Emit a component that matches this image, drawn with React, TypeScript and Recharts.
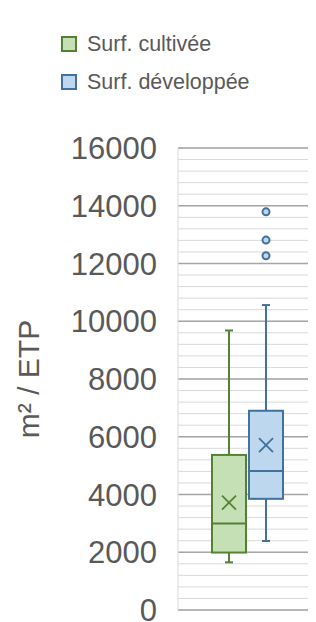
import React from 'react'
import { ComposedChart, Bar, XAxis, YAxis, CartesianGrid, Legend } from 'recharts'

const categories = ['Surf. cultivée', 'Surf. développée']
const mins = [1650, 2390]
const q1s = [1990, 3850]
const medians = [3000, 4810]
const q3s = [5370, 6900]
const maxs = [9680, 10560]
const means = [3720, 5710]
const outliers = [[], [12270, 12810, 13790]]
const yTicks = [0, 2000, 4000, 6000, 8000, 10000, 12000, 14000, 16000]
const Y_DOMAIN = [0, 16000]

const FILLS = ['#C5E0B4', '#BDD7EE']
const STROKES = ['#548235', '#41719C']
const FONT = '"Liberation Sans", Arial, sans-serif'

// light grid every 400
const minorTicks = Array.from({ length: 41 }, (_, i) => i * 400)

const data = [
  {
    group: '',
    s0: [q1s[0], q3s[0]],
    s1: [q1s[1], q3s[1]],
  },
]

const minorGrid = ({ yAxis, offset }: any) => {
  if (yAxis && typeof yAxis.scale === 'function') return minorTicks.map((v) => yAxis.scale(v))
  const [lo, hi] = Y_DOMAIN
  return minorTicks.map((v) => offset.top + offset.height * (1 - (v - lo) / (hi - lo)))
}

const BoxShape = (props: any) => {
  const { x, y, width, height, si } = props
  const top = Math.min(y, y + height)
  const bottom = Math.max(y, y + height)
  const k = (bottom - top) / (q3s[si] - q1s[si])
  const py = (v: number) => bottom - (v - q1s[si]) * k
  const cx = x + width / 2
  const stroke = STROKES[si]
  const cap = 4
  const m = 7
  const my = py(means[si])
  return (
    <g>
      <line x1={cx} x2={cx} y1={top} y2={py(maxs[si])} stroke={stroke} strokeWidth={2} />
      <line x1={cx - cap} x2={cx + cap} y1={py(maxs[si])} y2={py(maxs[si])} stroke={stroke} strokeWidth={2} />
      <line x1={cx} x2={cx} y1={bottom} y2={py(mins[si])} stroke={stroke} strokeWidth={2} />
      <line x1={cx - cap} x2={cx + cap} y1={py(mins[si])} y2={py(mins[si])} stroke={stroke} strokeWidth={2} />
      <rect x={x} y={top} width={width} height={bottom - top} fill={FILLS[si]} stroke={stroke} strokeWidth={2} />
      <line x1={x} x2={x + width} y1={py(medians[si])} y2={py(medians[si])} stroke={stroke} strokeWidth={2} />
      <line x1={cx - m} x2={cx + m} y1={my - m} y2={my + m} stroke={stroke} strokeWidth={1.8} />
      <line x1={cx - m} x2={cx + m} y1={my + m} y2={my - m} stroke={stroke} strokeWidth={1.8} />
      {outliers[si].map((v, i) => (
        <circle key={i} cx={cx} cy={py(v)} r={3.5} fill={FILLS[si]} stroke={stroke} strokeWidth={2} />
      ))}
    </g>
  )
}

const LegendContent = () => (
  <div style={{ fontFamily: FONT, fontSize: 21.5, color: '#595959' }}>
    {categories.map((c, i) => (
      <div key={c} style={{ display: 'flex', alignItems: 'center', height: 24, marginBottom: 14, whiteSpace: 'nowrap' }}>
        <span
          style={{
            display: 'inline-block',
            width: 12,
            height: 12,
            background: FILLS[i],
            border: `2px solid ${STROKES[i]}`,
            marginRight: 10,
          }}
        />
        <span>{c}</span>
      </div>
    ))}
  </div>
)

export default function App() {
  return (
    <>
      <style>{'html,body{overflow:hidden}'}</style>
      <ComposedChart
        width={308}
        height={614}
        data={data}
        margin={{ top: 64, right: 0, bottom: 12, left: 0 }}
        barGap={3}
      >
        <CartesianGrid
          vertical={false}
          stroke="#D9D9D9"
          strokeWidth={1}
          horizontalCoordinatesGenerator={minorGrid}
        />
        <CartesianGrid vertical={false} stroke="#A6A6A6" strokeWidth={1.5} />
        <XAxis dataKey="group" hide />
        <YAxis
          width={170}
          domain={Y_DOMAIN}
          ticks={yTicks}
          interval={0}
          tickLine={false}
          tickSize={6}
          tickMargin={15}
          axisLine={{ stroke: '#D9D9D9', strokeWidth: 1 }}
          tick={{ fill: '#595959', fontSize: 31, fontFamily: FONT }}
          label={{
            value: 'm² / ETP',
            angle: -90,
            position: 'insideLeft',
            offset: 20,
            style: { textAnchor: 'middle', fill: '#595959', fontSize: 30, fontFamily: FONT },
          }}
        />
        <Legend
          layout="vertical"
          align="center"
          verticalAlign="top"
          content={<LegendContent />}
          wrapperStyle={{ left: 53, top: 24, width: 'auto' }}
        />
        {categories.map((c, i) => (
          <Bar
            key={c}
            dataKey={`s${i}`}
            name={c}
            barSize={34}
            isAnimationActive={false}
            shape={(p: any) => <BoxShape {...p} si={i} />}
          />
        ))}
      </ComposedChart>
    </>
  )
}
